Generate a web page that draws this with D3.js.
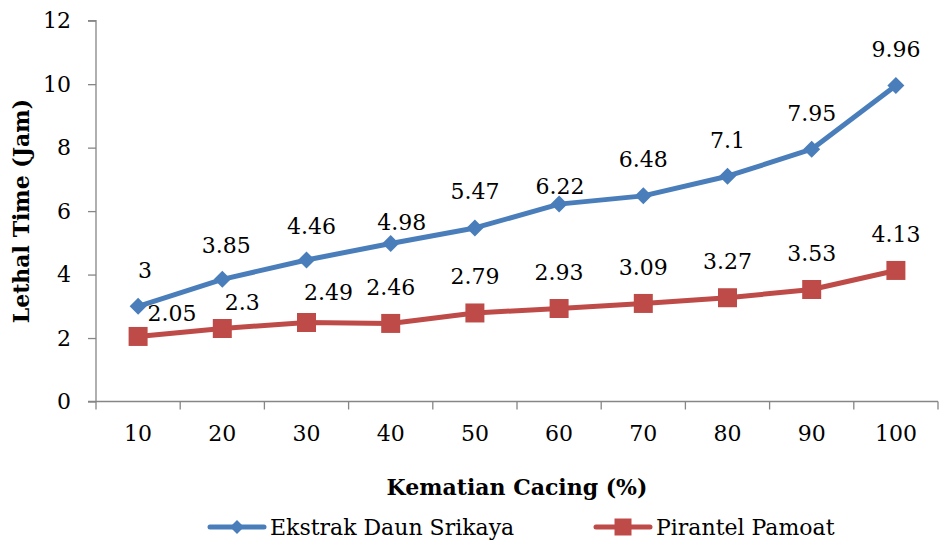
<!DOCTYPE html>
<html><head><meta charset="utf-8">
<script src="https://cdn.jsdelivr.net/npm/d3@7/dist/d3.min.js"></script>
<style>
html,body{margin:0;padding:0;background:#fff;}
svg{display:block;}
text{font-family:"DejaVu Serif",serif;fill:#000;}
</style></head>
<body>
<svg id="chart" width="939" height="547"></svg>
<script>
// ---- data ----
const categories = ["10","20","30","40","50","60","70","80","90","100"];
const ekstrakDaunSrikaya = [3, 3.85, 4.46, 4.98, 5.47, 6.22, 6.48, 7.1, 7.95, 9.96];
const pirantelPamoat = [2.05, 2.3, 2.49, 2.46, 2.79, 2.93, 3.09, 3.27, 3.53, 4.13];
const yTicks = [0, 2, 4, 6, 8, 10, 12];
const seriesNames = ["Ekstrak Daun Srikaya", "Pirantel Pamoat"];
const xTitle = "Kematian Cacing (%)";
const yTitle = "Lethal Time (Jam)";

// ---- layout ----
const svg = d3.select("#chart");
const mLeft = 96, mRight = 938, mTop = 20.7, mBottom = 401.5;
const FS = 22;
const blue = "#4A7EBB", red = "#BE4B48", axisCol = "#868686";

const x = d3.scaleBand().domain(categories).range([mLeft, mRight]).padding(0);
const y = d3.scaleLinear().domain([0, 12]).range([mBottom, mTop]);
const cx = c => x(c) + x.bandwidth() / 2;

// y axis
const yAxis = d3.axisLeft(y).tickValues(yTicks).tickSize(8).tickPadding(17).tickFormat(d3.format("d"));
const gy = svg.append("g").attr("transform", `translate(${mLeft},0)`).call(yAxis);
gy.selectAll("path,line").attr("stroke", axisCol).attr("stroke-width", 1.3);
gy.select("path").attr("d", `M-8,${mTop}H0V${mBottom}H-8`);
gy.selectAll("text").attr("font-size", FS).attr("font-family", '"DejaVu Serif",serif').attr("fill", "#000");

// x axis with ticks at band boundaries
const xAxis = d3.axisBottom(x).tickSize(0).tickPadding(24);
const gx = svg.append("g").attr("transform", `translate(0,${mBottom})`).call(xAxis);
gx.select("path").attr("stroke", axisCol).attr("stroke-width", 1.3).attr("d", `M${mLeft},0H${mRight}`);
gx.selectAll("text").attr("font-size", FS).attr("font-family", '"DejaVu Serif",serif').attr("fill", "#000");
const bounds = categories.map(c => x(c)).concat([mRight]);
gx.selectAll("line.bt").data(bounds).enter().append("line").attr("class", "bt")
  .attr("x1", d => d).attr("x2", d => d).attr("y1", 0).attr("y2", 8)
  .attr("stroke", axisCol).attr("stroke-width", 1.3);

// titles
svg.append("text").attr("x", (mLeft + mRight) / 2).attr("y", 487).attr("text-anchor", "middle")
  .attr("dominant-baseline", "central").attr("font-weight", "bold").attr("font-size", FS).text(xTitle);
svg.append("text").attr("transform", `translate(21,${(mTop + mBottom) / 2}) rotate(-90)`)
  .attr("text-anchor", "middle").attr("dominant-baseline", "central")
  .attr("font-weight", "bold").attr("font-size", FS).text(yTitle);

// markers
const diamond = (s) => `M0,${-s}L${s},0L0,${s}L${-s},0Z`;
const square = (s) => `M${-s},${-s}H${s}V${s}H${-s}Z`;

const line = d3.line().x((d, i) => cx(categories[i])).y(d => y(d));

function drawSeries(values, color, shape, size) {
  const g = svg.append("g");
  g.append("path").datum(values).attr("d", line).attr("fill", "none")
    .attr("stroke", color).attr("stroke-width", 5).attr("stroke-linejoin", "round");
  g.selectAll("path.m").data(values).enter().append("path").attr("class", "m")
    .attr("d", shape(size)).attr("fill", color)
    .attr("transform", (d, i) => `translate(${cx(categories[i])},${y(d)})`);
}
drawSeries(pirantelPamoat, red, square, 9.5);
drawSeries(ekstrakDaunSrikaya, blue, diamond, 8.5);

// data labels (default above; a few manually nudged as in the original)
const labelNudgeBlue = {0: [7, 0], 1: [4, 2], 2: [5, 3], 3: [11, 15], 5: [1, 18]};
const labelNudgeRed = {0: [34, 13], 1: [20, 10], 2: [22, 6]};
function drawLabels(values, nudge) {
  svg.append("g").selectAll("text").data(values).enter().append("text")
    .attr("x", (d, i) => cx(categories[i]) + (nudge[i] ? nudge[i][0] : 0))
    .attr("y", (d, i) => y(d) - 36 + (nudge[i] ? nudge[i][1] : 0))
    .attr("text-anchor", "middle").attr("dominant-baseline", "central")
    .attr("font-size", FS).text(d => d);
}
drawLabels(ekstrakDaunSrikaya, labelNudgeBlue);
drawLabels(pirantelPamoat, labelNudgeRed);

// legend
const legendY = 527;
const legItems = [
  {name: seriesNames[0], color: blue, shape: diamond, size: 7, x0: 210},
  {name: seriesNames[1], color: red, shape: square, size: 8.5, x0: 596}
];
legItems.forEach(it => {
  const g = svg.append("g");
  g.append("line").attr("x1", it.x0).attr("x2", it.x0 + 54).attr("y1", legendY).attr("y2", legendY)
    .attr("stroke", it.color).attr("stroke-width", 5).attr("stroke-linecap", "round");
  g.append("path").attr("d", it.shape(it.size)).attr("fill", it.color)
    .attr("transform", `translate(${it.x0 + 27},${legendY})`);
  g.append("text").attr("x", it.x0 + 60).attr("y", legendY).attr("dominant-baseline", "central")
    .attr("font-size", FS).text(it.name);
});
</script>
</body></html>
